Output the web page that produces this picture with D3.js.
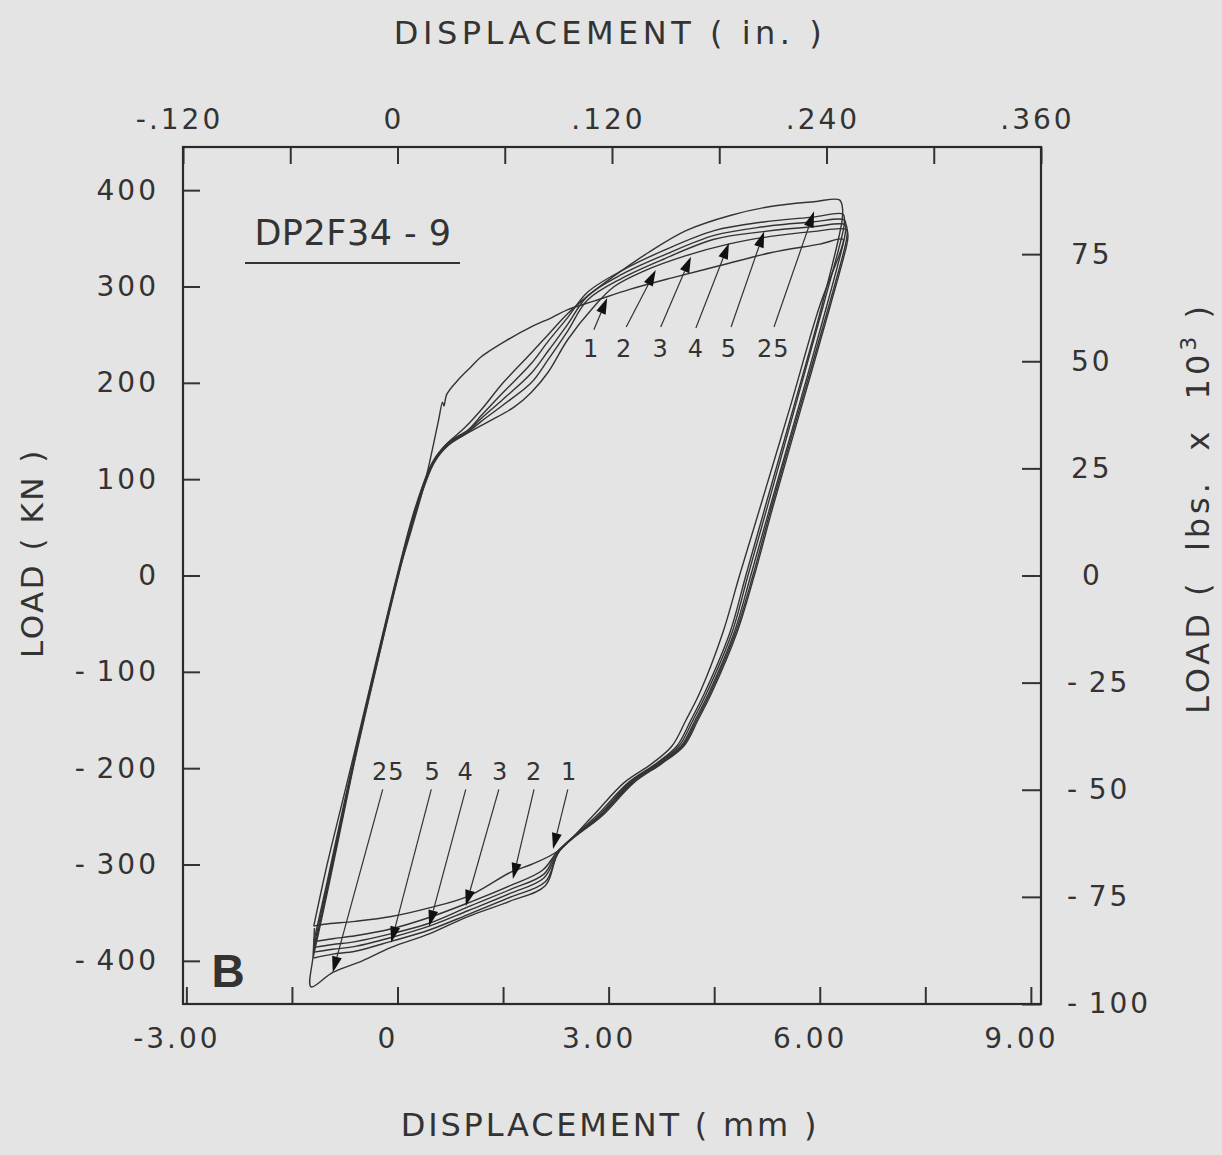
<!DOCTYPE html>
<html>
<head>
<meta charset="utf-8">
<script src="https://cdn.jsdelivr.net/npm/d3@7"></script>
<style>
  body { margin: 0; background: #e4e4e4; }
  svg { display: block; }
  text { font-family: "DejaVu Sans", sans-serif; fill: #333; white-space: pre; }
</style>
</head>
<body>
<svg id="chart" width="1222" height="1155"></svg>
<script>
// hysteresis loops, displacement (mm) vs load (kN)
var cycle1 = [[0,0],[0.2,48],[0.4,100],[0.58,160],[0.64,180],[0.66,176],[0.7,188],[0.86,203],[1.05,217],[1.19,227],[1.55,244],[1.9,258],[2.2,268],[2.42,276],[2.8,285],[3.3,297],[3.9,309],[4.6,322],[5.3,335],[6.0,344],[6.33,349],
  [6.31,340],[6.0,280],[5.58,175],[5.15,70],[4.86,0],[4.62,-60],[4.3,-121],[4.1,-150],[3.9,-177],[3.62,-195],[3.22,-215],[2.77,-250],[2.28,-286],[1.9,-300],[1.61,-308],[1.0,-333],[0.45,-345],[-0.09,-354],[-0.6,-359],[-1.04,-362],[-1.19,-364]];
var cycle2 = [[-1.19,-364],[-1.0,-300],[-0.8,-240],[-0.6,-180],[-0.3,-88],[0,2],[0.25,70],[0.5,118],[0.72,138],[0.95,153],[1.19,172],[1.5,200],[1.9,231],[2.14,250],[2.42,272],[2.7,290],[3.1,312],[3.56,335],[4.1,358],[4.74,374],[5.3,383],[5.92,388],[6.28,390],[6.32,383],
  [6.32,370],[6.03,280],[5.63,175],[5.22,70],[4.95,0],[4.72,-60],[4.37,-121],[4.17,-150],[3.97,-177],[3.68,-195],[3.28,-215],[2.82,-250],[2.28,-286],[2.06,-306],[1.6,-322],[1.0,-340],[0.45,-355],[-0.1,-367],[-0.6,-374],[-0.92,-377],[-1.19,-380]];
var cycle3 = [[-1.19,-380],[-1.0,-318],[-0.8,-250],[-0.6,-184],[-0.3,-90],[0,0],[0.25,68],[0.52,120],[0.72,138],[1.0,151],[1.19,166],[1.5,190],[1.9,220],[2.14,243],[2.42,268],[2.7,294],[3.2,317],[3.8,338],[4.5,358],[5.2,367],[5.9,372],[6.33,375],[6.35,367],
  [6.33,357],[6.05,280],[5.65,175],[5.25,70],[4.98,0],[4.75,-60],[4.4,-121],[4.2,-150],[4.0,-177],[3.7,-195],[3.3,-215],[2.85,-250],[2.28,-286],[2.08,-310],[1.6,-326],[1.0,-344],[0.45,-361],[-0.1,-372],[-0.6,-380],[-0.92,-383],[-1.19,-386]];
var cycle4 = [[-1.19,-386],[-1.0,-322],[-0.8,-254],[-0.6,-186],[-0.3,-92],[0,-2],[0.25,66],[0.52,119],[0.72,137],[1.0,150],[1.19,163],[1.5,183],[1.9,210],[2.14,233],[2.42,261],[2.7,290],[3.2,313],[3.8,333],[4.5,353],[5.2,362],[5.9,367],[6.35,369],[6.37,361],
  [6.35,350],[6.1,280],[5.7,175],[5.29,70],[5.02,0],[4.78,-60],[4.43,-121],[4.23,-150],[4.03,-177],[3.72,-195],[3.32,-215],[2.87,-250],[2.3,-286],[2.08,-314],[1.6,-330],[1.0,-348],[0.45,-364],[-0.1,-376],[-0.6,-385],[-0.92,-388],[-1.19,-391]];
var cycle5 = [[-1.19,-391],[-1.0,-326],[-0.8,-257],[-0.6,-188],[-0.3,-94],[0,-3],[0.25,65],[0.52,118],[0.72,136],[1.0,149],[1.19,160],[1.5,177],[1.9,200],[2.14,224],[2.42,254],[2.7,286],[3.2,309],[3.8,329],[4.5,349],[5.2,357],[5.9,362],[6.37,364],[6.39,356],
  [6.37,345],[6.13,280],[5.72,175],[5.31,70],[5.05,0],[4.8,-60],[4.45,-121],[4.25,-150],[4.05,-177],[3.74,-195],[3.34,-215],[2.88,-250],[2.3,-286],[2.1,-318],[1.6,-334],[1.0,-352],[0.45,-368],[-0.1,-380],[-0.6,-390],[-0.92,-393],[-1.19,-397]];
var cycle25 = [[-1.2,-397],[-1.0,-330],[-0.8,-260],[-0.6,-190],[-0.3,-95],[0,-4],[0.25,64],[0.52,117],[0.72,135],[1.0,148],[1.3,160],[1.66,175],[1.9,190],[2.14,211],[2.42,245],[2.79,279],[3.08,300],[3.5,316],[4.1,332],[4.7,344],[5.3,352],[5.9,357],[6.38,359],[6.4,351],
  [6.38,342],[6.15,280],[5.74,175],[5.33,70],[5.07,0],[4.82,-60],[4.47,-121],[4.27,-150],[4.07,-177],[3.76,-195],[3.36,-215],[2.9,-250],[2.3,-286],[2.1,-322],[1.6,-338],[1.0,-354],[0.45,-372],[-0.09,-386],[-0.5,-400],[-0.92,-412],[-1.23,-427],[-1.2,-395],[-1.18,-366]];

// axis ticks
var mmTicks = [-3, -1.5, 0, 1.5, 3, 4.5, 6, 7.5, 9];
var mmLabels = {"-3": "-3.00", "0": "0", "3": "3.00", "6": "6.00", "9": "9.00"};
var inTicks = [-0.12, -0.06, 0, 0.06, 0.12, 0.18, 0.24, 0.30, 0.36];
var inLabels = {"-0.12": "-.120", "0": "0", "0.12": ".120", "0.24": ".240", "0.36": ".360"};
var knTicks = [400, 300, 200, 100, 0, -100, -200, -300, -400];
var klbTicks = [75, 50, 25, 0, -25, -50, -75, -100];

// cycle callouts (mm, kN)
var upperNames = ["1", "2", "3", "4", "5", "25"];
var upperLabelX = [2.75, 3.22, 3.74, 4.24, 4.71, 5.34];
var upperFrom = [[2.79,255],[3.25,258],[3.74,258],[4.24,257],[4.74,258],[5.35,258]];
var upperTip = [[2.98,288],[3.67,317],[4.17,331],[4.71,345],[5.21,357],[5.92,378]];
var lowerNames = ["25", "5", "4", "3", "2", "1"];
var lowerLabelX = [-0.13, 0.50, 0.97, 1.46, 1.94, 2.44];
var lowerFrom = [[-0.21,-222],[0.48,-222],[0.97,-222],[1.44,-222],[1.94,-222],[2.42,-222]];
var lowerTip = [[-0.92,-412],[-0.09,-381],[0.45,-364],[0.97,-343],[1.64,-315],[2.21,-284]];

var svg = d3.select("#chart");
var plotLeft = 183, plotRight = 1041, plotTop = 147, plotBottom = 1004;

var x = d3.scaleLinear().domain([-3.048, 9.144]).range([plotLeft, plotRight]);
var xIn = d3.scaleLinear().domain([-0.12, 0.36]).range([plotLeft, plotRight]);
var y = d3.scaleLinear().domain([-444.8, 444.8]).range([plotBottom, plotTop]);
var yLb = d3.scaleLinear().domain([-100, 100]).range([plotBottom, plotTop]);

// plotter style minus: short hyphen plus a thin gap
function signed(d) { return d < 0 ? "-\u2009" + Math.abs(d) : String(d); }

function styleAxis(g) {
  g.select(".domain").remove();
  g.selectAll(".tick line").attr("stroke", "#333").attr("stroke-width", 2);
  g.selectAll(".tick text").style("font-size", "28px").style("letter-spacing", "3px")
    .attr("fill", "#333").style("font-family", "DejaVu Sans, sans-serif");
}

svg.append("g").attr("transform", "translate(0," + plotBottom + ")")
  .call(d3.axisBottom(x).tickValues(mmTicks).tickSize(-17).tickSizeOuter(0).tickPadding(24)
    .tickFormat(function(d) { return mmLabels[String(d)] || ""; }))
  .call(styleAxis)
  .selectAll(".tick text").attr("dx", "-10");

svg.append("g").attr("transform", "translate(0," + plotTop + ")")
  .call(d3.axisTop(xIn).tickValues(inTicks).tickSize(-17).tickSizeOuter(0).tickPadding(18)
    .tickFormat(function(d) { return inLabels[String(+d.toFixed(2))] || ""; }))
  .call(styleAxis)
  .selectAll(".tick text").attr("dx", "-4");

svg.append("g").attr("transform", "translate(" + plotLeft + ",0)")
  .call(d3.axisLeft(y).tickValues(knTicks).tickSize(-17).tickSizeOuter(0).tickPadding(24)
    .tickFormat(signed))
  .call(styleAxis);

var rAxis = svg.append("g").attr("transform", "translate(" + plotRight + ",0)")
  .call(d3.axisRight(yLb).tickValues(klbTicks).tickSize(-19).tickSizeOuter(0).tickPadding(26)
    .tickFormat(signed))
  .call(styleAxis);
rAxis.selectAll(".tick text").filter(function(d) { return d === 0; }).attr("dx", "15");
rAxis.selectAll(".tick text").filter(function(d) { return d > 0; }).attr("dx", "4");

svg.append("rect")
  .attr("x", plotLeft).attr("y", plotTop)
  .attr("width", plotRight - plotLeft).attr("height", plotBottom - plotTop)
  .attr("fill", "none").attr("stroke", "#2a2a2a").attr("stroke-width", 2.2);

// loops
var cycles = [cycle1, cycle2, cycle3, cycle4, cycle5, cycle25];
var line = d3.line()
  .x(function(d) { return x(d[0]); })
  .y(function(d) { return y(d[1]); })
  .curve(d3.curveCatmullRom.alpha(0.5));

svg.append("g").selectAll("path").data(cycles).enter().append("path")
  .attr("d", line)
  .attr("fill", "none")
  .attr("stroke", "#333")
  .attr("stroke-width", 1.4)
  .attr("stroke-linejoin", "round");

// callout arrows
function drawArrows(names, labelX, labelY, from, tip) {
  var g = svg.append("g");
  names.forEach(function(n, i) {
    var fx = x(from[i][0]), fy = y(from[i][1]);
    var tx = x(tip[i][0]), ty = y(tip[i][1]);
    var dx = tx - fx, dy = ty - fy, len = Math.sqrt(dx * dx + dy * dy);
    var ux = dx / len, uy = dy / len;
    var bx = tx - ux * 16, by = ty - uy * 16;
    g.append("line")
      .attr("x1", fx).attr("y1", fy).attr("x2", bx).attr("y2", by)
      .attr("stroke", "#333").attr("stroke-width", 1.2);
    g.append("path")
      .attr("d", "M" + tx + "," + ty + "L" + (bx - uy * 5) + "," + (by + ux * 5) +
        "L" + (bx + uy * 5) + "," + (by - ux * 5) + "Z")
      .attr("fill", "#111");
    g.append("text")
      .attr("x", x(labelX[i])).attr("y", y(labelY))
      .attr("text-anchor", "middle").attr("dy", "0.35em")
      .style("font-size", "24px").style("letter-spacing", "1px")
      .text(n);
  });
}
drawArrows(upperNames, upperLabelX, 236, upperFrom, upperTip);
drawArrows(lowerNames, lowerLabelX, -204, lowerFrom, lowerTip);

// titles
svg.append("text").attr("x", 610).attr("y", 33).attr("dy", "0.35em")
  .attr("text-anchor", "middle").style("font-size", "32px").style("letter-spacing", "4.5px")
  .text("DISPLACEMENT ( in. )");
svg.append("text").attr("x", 610).attr("y", 1125).attr("dy", "0.35em")
  .attr("text-anchor", "middle").style("font-size", "32px").style("letter-spacing", "2.8px")
  .text("DISPLACEMENT ( mm )");
svg.append("text").attr("transform", "translate(32,553) rotate(-90)").attr("dy", "0.35em")
  .attr("text-anchor", "middle").style("font-size", "31px").style("letter-spacing", "2.5px")
  .text("LOAD ( KN )");
var rt = svg.append("text").attr("transform", "translate(1198,508) rotate(-90)").attr("dy", "0.35em")
  .attr("text-anchor", "middle").style("font-size", "32px").style("letter-spacing", "4px");
rt.append("tspan").text("LOAD (  lbs.  x  10");
rt.append("tspan").attr("dy", "-13").style("font-size", "22px").text("3");
rt.append("tspan").attr("dy", "13").text(" )");

// specimen label
svg.append("text").attr("x", 353).attr("y", 233).attr("dy", "0.35em")
  .attr("text-anchor", "middle").style("font-size", "35px").style("letter-spacing", "0.5px")
  .text("DP2F34 - 9");
svg.append("line").attr("x1", 245).attr("x2", 460).attr("y1", 263).attr("y2", 263)
  .attr("stroke", "#333").attr("stroke-width", 2.2);
svg.append("text").attr("x", 228).attr("y", 971).attr("dy", "0.35em")
  .attr("text-anchor", "middle").style("font-size", "46px").style("font-weight", "bold")
  .attr("fill", "#111").style("font-family", "Liberation Sans, sans-serif")
  .text("B");
</script>
</body>
</html>
